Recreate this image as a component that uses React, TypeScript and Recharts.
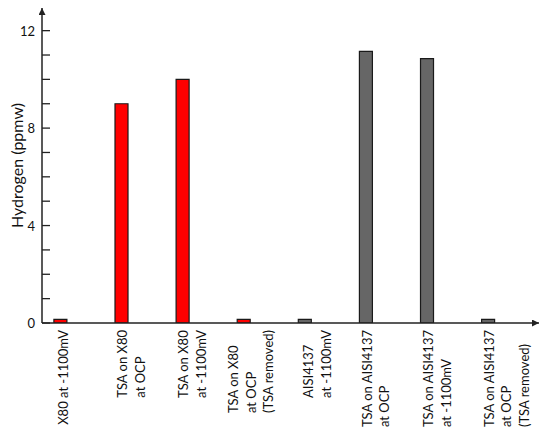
import { useLayoutEffect, useRef, useState } from "react";
import { BarChart, Bar, XAxis, YAxis, Cell } from "recharts";

const categories = [
  ["X80 at -1100mV"],
  ["TSA on X80", "at OCP"],
  ["TSA on X80", "at -1100mV"],
  ["TSA on X80", "at OCP", "(TSA removed)"],
  ["AISI4137", "at -1100mV"],
  ["TSA on AISI4137", "at OCP"],
  ["TSA on AISI4137", "at -1100mV"],
  ["TSA on AISI4137", "at OCP", "(TSA removed)"],
];
const hydrogen = [0.15, 9.0, 10.0, 0.15, 0.15, 11.15, 10.85, 0.15];
const steel = ["X80", "X80", "X80", "X80", "AISI4137", "AISI4137", "AISI4137", "AISI4137"];
const yTicks = [0, 1, 2, 3, 4, 5, 6, 7, 8, 9, 10, 11, 12];
const yLabels = [0, 4, 8, 12];

const data = hydrogen.map((v, i) => ({ idx: i, value: v, steel: steel[i] }));
const colors: Record<string, string> = { X80: "#ff0000", AISI4137: "#666666" };

const FONT = "Lato, 'Open Sans', sans-serif";
const LABEL_SIZE = 13;
const CHART_H = 419;
const X_AXIS_H = 104;

// small nudges so the rotated text blocks sit where the original has them
const nudge = [3, 0.5, 0.5, -10.5, 3.5, 1, 1, 0.5];

function CategoryTick(props: any) {
  const { x, payload } = props;
  const i = payload.value as number;
  const lines = categories[i] || [];
  const refs = useRef<(SVGTextElement | null)[]>([]);
  const [longest, setLongest] = useState(0);
  useLayoutEffect(() => {
    let m = 0;
    refs.current.forEach((el) => {
      if (el) m = Math.max(m, el.getComputedTextLength());
    });
    if (m > 0 && Math.abs(m - longest) > 0.5) setLongest(m);
  });
  const top = CHART_H - X_AXIS_H + 7;
  return (
    <g>
      {lines.map((ln, k) => {
        const lx = x + nudge[i] + k * 17.5;
        return (
          <text
            key={k}
            ref={(el) => {
              refs.current[k] = el;
            }}
            transform={`translate(${lx},${top + longest}) rotate(-90)`}
            textAnchor="start"
            dominantBaseline="central"
            fontSize={LABEL_SIZE}
            fontFamily={FONT}
            fill="#111"
          >
            {ln}
          </text>
        );
      })}
    </g>
  );
}

function ValueTick(props: any) {
  const { x, y, payload } = props;
  const v = payload.value as number;
  return (
    <g>
      <line x1={x} y1={y} x2={x + 8} y2={y} stroke="#222" strokeWidth={1.3} />
      {yLabels.includes(v) && (
        <text x={x - 7} y={y} textAnchor="end" dominantBaseline="central" fontSize={13} fontFamily={FONT} fill="#111">
          {v}
        </text>
      )}
    </g>
  );
}

export default function App() {
  return (
    <div style={{ width: 542, height: CHART_H }}>
      <svg width={0} height={0} style={{ position: "absolute" }}>
        <defs>
          <marker
            id="arrowHead"
            viewBox="0 0 10 10"
            refX={10}
            refY={5}
            markerWidth={8}
            markerHeight={7}
            markerUnits="userSpaceOnUse"
            orient="auto-start-reverse"
          >
            <path d="M0,0 L10,5 L0,10 z" fill="#222" />
          </marker>
        </defs>
      </svg>
      <BarChart width={542} height={CHART_H} data={data} margin={{ top: 0, right: 11, bottom: 0, left: 0 }}>
        <XAxis
          dataKey="idx"
          type="number"
          domain={[-0.302, 7.832]}
          allowDataOverflow
          ticks={[0, 1, 2, 3, 4, 5, 6, 7]}
          interval={0}
          tickLine={false}
          tickSize={0}
          tickMargin={0}
          height={X_AXIS_H}
          axisLine={{ stroke: "#222", strokeWidth: 1.5, markerEnd: "url(#arrowHead)" }}
          tick={<CategoryTick />}
        />
        <YAxis
          type="number"
          domain={[0, 12.93]}
          allowDataOverflow
          ticks={yTicks}
          interval={0}
          width={34}
          tickLine={false}
          tickSize={0}
          tickMargin={0}
          axisLine={{ stroke: "#222", strokeWidth: 1.5, markerStart: "url(#arrowHead)" }}
          tick={<ValueTick />}
          label={(p: any) => {
            const vb = p.viewBox || { x: 0, y: 0, height: 315 };
            const cx = vb.x + 8;
            const cy = vb.y + vb.height / 2;
            return (
              <text
                transform={`translate(${cx},${cy}) rotate(-90)`}
                textAnchor="middle"
                dominantBaseline="central"
                fontSize={16}
                fontFamily={FONT}
                fill="#111"
              >
                Hydrogen (ppmw)
              </text>
            );
          }}
        />
        <Bar dataKey="value" barSize={13} stroke="#1a1a1a" strokeWidth={1.2} isAnimationActive={false}>
          {data.map((d, i) => (
            <Cell key={i} fill={colors[d.steel]} />
          ))}
        </Bar>
      </BarChart>
    </div>
  );
}
